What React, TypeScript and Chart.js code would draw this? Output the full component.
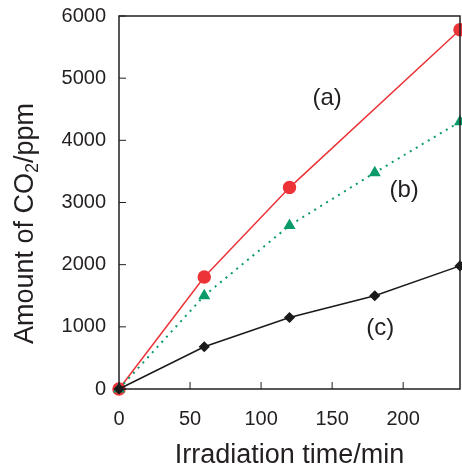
import React, { useEffect, useRef } from "react";
import { Chart, registerables } from "chart.js";

Chart.register(...registerables);

const timeA = [0, 60, 120, 240];
const seriesA = [0, 1800, 3240, 5780];
const timeB = [0, 60, 120, 180, 240];
const seriesB = [0, 1500, 2630, 3480, 4300];
const timeC = [0, 60, 120, 180, 240];
const seriesC = [0, 680, 1150, 1500, 1980];
const xTicks = [0, 50, 100, 150, 200];
const yTicks = [0, 1000, 2000, 3000, 4000, 5000, 6000];
const curveLabels = ["(a)", "(b)", "(c)"];
const labelX = [146.5, 200.7, 183.8];
const labelY = [4680, 3200, 980];
const yTitleMain = "Amount of CO";
const yTitleSub = "2";
const yTitleTail = "/ppm";

const FONT = "'Liberation Sans', Arial, Helvetica, sans-serif";
const INK = "#231f20";

const framePlugin = {
  id: "frame",
  afterDraw(chart: any) {
    const { ctx, chartArea, scales } = chart;
    const { left, right, top, bottom } = chartArea;
    ctx.save();
    ctx.strokeStyle = INK;
    ctx.lineWidth = 1.5;
    ctx.strokeRect(left, top, right - left, bottom - top);
    ctx.lineWidth = 1;
    const tl = 7;
    for (const v of xTicks) {
      const x = scales.x.getPixelForValue(v);
      ctx.beginPath();
      ctx.moveTo(x, bottom);
      ctx.lineTo(x, bottom - tl);
      ctx.stroke();
    }
    for (const v of yTicks) {
      const y = scales.y.getPixelForValue(v);
      ctx.beginPath();
      ctx.moveTo(left, y);
      ctx.lineTo(left + tl, y);
      ctx.stroke();
    }
    ctx.fillStyle = INK;
    ctx.font = `24px ${FONT}`;
    ctx.textAlign = "center";
    ctx.textBaseline = "middle";
    curveLabels.forEach((t, i) => {
      ctx.fillText(t, scales.x.getPixelForValue(labelX[i]), scales.y.getPixelForValue(labelY[i]));
    });

    // rotated y-axis title with a real subscript
    const mainFont = `27px ${FONT}`;
    const subFont = `18px ${FONT}`;
    ctx.font = mainFont;
    const w1 = ctx.measureText(yTitleMain).width;
    const w3 = ctx.measureText(yTitleTail).width;
    ctx.font = subFont;
    const w2 = ctx.measureText(yTitleSub).width;
    const total = w1 + w2 + w3;
    const cx = 23;
    const cy = (top + bottom) / 2 + 21;
    ctx.translate(cx, cy);
    ctx.rotate(-Math.PI / 2);
    ctx.textAlign = "left";
    ctx.textBaseline = "alphabetic";
    let x0 = -total / 2;
    const base = 9.5;
    ctx.font = mainFont;
    ctx.fillText(yTitleMain, x0, base);
    x0 += w1;
    ctx.font = subFont;
    ctx.fillText(yTitleSub, x0, base + 5);
    x0 += w2;
    ctx.font = mainFont;
    ctx.fillText(yTitleTail, x0, base);
    ctx.restore();
  },
};

export default function App() {
  const ref = useRef<HTMLCanvasElement>(null);
  useEffect(() => {
    const toXY = (xs: number[], ys: number[]) => xs.map((x, i) => ({ x, y: ys[i] }));
    const chart = new Chart(ref.current!, {
      type: "scatter",
      data: {
        datasets: [
          {
            label: "(c)",
            data: toXY(timeC, seriesC),
            showLine: true,
            borderColor: "#1a1a1a",
            backgroundColor: "#1a1a1a",
            borderWidth: 1.5,
            pointStyle: "rectRot",
            pointRadius: 4.5,
            clip: false,
            order: 0,
          },
          {
            label: "(b)",
            data: toXY(timeB, seriesB),
            showLine: true,
            borderColor: "#0b9b6b",
            backgroundColor: "#0b9b6b",
            borderWidth: 2,
            borderDash: [2, 5],
            pointStyle: "triangle",
            pointRadius: 5,
            clip: false,
            order: 1,
          },
          {
            label: "(a)",
            data: toXY(timeA, seriesA),
            showLine: true,
            borderColor: "#ec3338",
            backgroundColor: "#ec3338",
            borderWidth: 1.5,
            pointStyle: "circle",
            pointRadius: 6,
            clip: false,
            order: 2,
          },
        ],
      },
      options: {
        animation: false,
        responsive: false,
        maintainAspectRatio: false,
        layout: { autoPadding: false, padding: { top: 16, right: 2, left: 0, bottom: 0 } },
        plugins: { legend: { display: false }, tooltip: { enabled: false } },
        scales: {
          x: {
            type: "linear",
            min: 0,
            max: 240,
            grid: { display: false, drawTicks: false },
            border: { display: false },
            afterBuildTicks: (s: any) => {
              s.ticks = xTicks.map((v) => ({ value: v }));
            },
            afterFit: (s: any) => {
              s.height = 80;
              s.paddingLeft = 0;
              s.paddingRight = 0;
            },
            ticks: {
              color: INK,
              font: { family: FONT, size: 20 },
              padding: 18,
              maxRotation: 0,
              callback: (v: any) => String(v),
            },
            title: {
              display: true,
              text: "Irradiation time/min",
              color: INK,
              font: { family: FONT, size: 27 },
              padding: { top: 4, bottom: -3 },
            },
          },
          y: {
            type: "linear",
            min: 0,
            max: 6000,
            grid: { display: false, drawTicks: false },
            border: { display: false },
            afterBuildTicks: (s: any) => {
              s.ticks = yTicks.map((v) => ({ value: v }));
            },
            afterFit: (s: any) => {
              s.width = 119;
              s.paddingTop = 0;
              s.paddingBottom = 0;
            },
            ticks: {
              color: INK,
              font: { family: FONT, size: 20 },
              padding: 13,
              callback: (v: any) => String(v),
            },
            title: { display: false },
          },
        },
      },
      plugins: [framePlugin],
    });
    return () => chart.destroy();
  }, []);
  return (
    <div style={{ position: "absolute", left: 0, top: 0, width: 462, height: 469, background: "#fff" }}>
      <canvas ref={ref} width={462} height={469} style={{ width: 462, height: 469 }} />
    </div>
  );
}
